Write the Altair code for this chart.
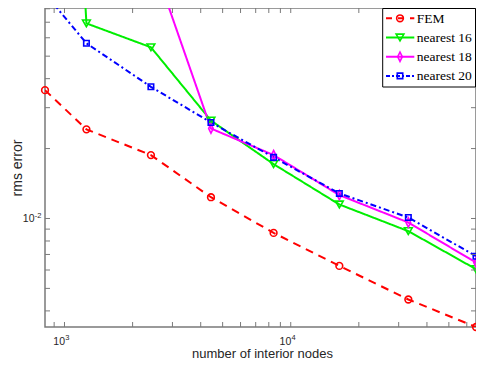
import altair as alt
import pandas as pd

# ---- data ----
nodes = [820, 1250, 2410, 4440, 8400, 16400, 33100, 65900]
fem = [0.0357, 0.0242, 0.01875, 0.01235, 0.00867, 0.00625, 0.00448, 0.00341]
nearest16 = [100.0, 0.0692, 0.0546, 0.0264, 0.01714, 0.01149, 0.00882, 0.00605]
nearest18 = [None, None, 0.135, 0.0244, 0.01875, 0.01261, 0.00961, 0.00646]
nearest20 = [0.093, 0.0568, 0.0369, 0.0259, 0.01833, 0.01282, 0.0101, 0.00688]

series_names = ["FEM", "nearest 16", "nearest 18", "nearest 20"]
series_values = [fem, nearest16, nearest18, nearest20]
colors = ["#ff0000", "#00ee00", "#ff00ff", "#0000ff"]
dashes = [[8, 6], [1, 0], [1, 0], [6, 3, 2, 3]]
shapes = ["circle", "triangle-down", "M0,-1.25L0.62,0L0,1.25L-0.62,0Z", "square"]
sizes = [45, 60, 55, 30]
legend_dashes = [[6, 6], [1, 0], [1, 0], [4, 2, 2, 2]]

x_minor = [900, 1000, 2000, 3000, 4000, 5000, 6000, 7000, 8000, 9000,
           10000, 20000, 30000, 40000, 50000, 60000]
y_minor = [0.004, 0.005, 0.006, 0.007, 0.008, 0.009, 0.01,
           0.02, 0.03, 0.04, 0.05, 0.06, 0.07, 0.08]
x_labels = [1000, 10000]
x_exps = ["3", "4"]
y_labels = [0.01]
y_exps = ["-2"]

X_DOMAIN = [820, 65900]
Y_DOMAIN = [0.00341, 0.0806]
W, H = 431, 319
AX = "#7a7a7a"
TXT = "#262626"
FONT = "Liberation Sans"

rows = []
for name, vals in zip(series_names, series_values):
    for n, v in zip(nodes, vals):
        if v is not None:
            rows.append({"series": name, "nodes": n, "err": v})
df = pd.DataFrame(rows)

xs = alt.Scale(type="log", domain=X_DOMAIN, nice=False)
ys = alt.Scale(type="log", domain=Y_DOMAIN, nice=False)

x_axis = alt.Axis(title="number of interior nodes", labels=False, ticks=False, domain=False,
                  grid=False, titleFont=FONT, titleFontSize=13, titleFontWeight="normal",
                  titleColor=TXT, titleX=217, titleY=30, titleAlign="center",
                  titleBaseline="alphabetic")
y_axis = alt.Axis(title="rms error", labels=False, ticks=False, domain=False, grid=False,
                  titleFont=FONT, titleFontSize=14, titleFontWeight="normal", titleColor=TXT,
                  titleX=-24, titleY=159.5, titleAlign="center", titleBaseline="alphabetic",
                  titleAngle=270)

lines = alt.Chart(df).mark_line(clip=True, strokeWidth=2).encode(
    x=alt.X("nodes:Q", scale=xs, axis=x_axis),
    y=alt.Y("err:Q", scale=ys, axis=y_axis),
    color=alt.Color("series:N", scale=alt.Scale(domain=series_names, range=colors), legend=None),
    strokeDash=alt.StrokeDash("series:N", scale=alt.Scale(domain=series_names, range=dashes), legend=None),
    order="nodes:Q",
)

layers = [lines]
for name, col, shp, sz in zip(series_names, colors, shapes, sizes):
    pts = alt.Chart(df).transform_filter(
        (alt.datum.series == name) & (alt.datum.err <= Y_DOMAIN[1])
    ).mark_point(filled=False, shape=shp, size=sz, strokeWidth=1.6, color=col, opacity=1).encode(
        x=alt.X("nodes:Q", scale=xs),
        y=alt.Y("err:Q", scale=ys),
    )
    layers.append(pts)

# ticks (inside, all four sides)
xt = pd.DataFrame({"nodes": x_minor})
yt = pd.DataFrame({"err": y_minor})
tick_len = 5
layers.append(alt.Chart(xt).mark_rule(color=AX, strokeWidth=1).encode(
    x=alt.X("nodes:Q", scale=xs), y=alt.value(H - tick_len), y2=alt.value(H)))
layers.append(alt.Chart(xt).mark_rule(color=AX, strokeWidth=1).encode(
    x=alt.X("nodes:Q", scale=xs), y=alt.value(0), y2=alt.value(tick_len)))
layers.append(alt.Chart(yt).mark_rule(color=AX, strokeWidth=1).encode(
    y=alt.Y("err:Q", scale=ys), x=alt.value(0), x2=alt.value(tick_len)))
layers.append(alt.Chart(yt).mark_rule(color=AX, strokeWidth=1).encode(
    y=alt.Y("err:Q", scale=ys), x=alt.value(W - tick_len), x2=alt.value(W)))

# tick labels 10^n
xl = pd.DataFrame({"nodes": x_labels, "exp": x_exps})
layers.append(alt.Chart(xl).mark_text(align="right", baseline="middle", dx=0.5, font=FONT,
                                      fontSize=10.5, color=TXT).encode(
    x=alt.X("nodes:Q", scale=xs), y=alt.value(H + 15), text=alt.value("10")))
layers.append(alt.Chart(xl).mark_text(align="left", baseline="middle", dx=0.8, font=FONT,
                                      fontSize=7.5, color=TXT).encode(
    x=alt.X("nodes:Q", scale=xs), y=alt.value(H + 10.7), text="exp:N"))
yl = pd.DataFrame({"err": y_labels, "exp": y_exps})
layers.append(alt.Chart(yl).mark_text(align="right", baseline="middle", dy=0.6, font=FONT,
                                      fontSize=10.5, color=TXT).encode(
    y=alt.Y("err:Q", scale=ys), x=alt.value(-10.5), text=alt.value("10")))
layers.append(alt.Chart(yl).mark_text(align="left", baseline="middle", dy=-2.8, font=FONT,
                                      fontSize=7.5, color=TXT).encode(
    y=alt.Y("err:Q", scale=ys), x=alt.value(-10.3), text="exp:N"))

# legend box
one = pd.DataFrame({"k": [0]})
layers.append(alt.Chart(one).mark_rect(fill="white", stroke="black", strokeWidth=1).encode(
    x=alt.value(337.7), x2=alt.value(W - 0.5), y=alt.value(0.5), y2=alt.value(79)))
for i, (name, col, dsh, shp, sz) in enumerate(zip(series_names, colors, legend_dashes, shapes, sizes)):
    ly = 10.3 + 19.2 * i
    layers.append(alt.Chart(one).mark_rule(color=col, strokeWidth=2, strokeDash=dsh).encode(
        x=alt.value(341), x2=alt.value(369.3), y=alt.value(ly)))
    layers.append(alt.Chart(one).mark_point(filled=False, shape=shp, size=sz, strokeWidth=1.6,
                                           color=col, opacity=1).encode(
        x=alt.value(355), y=alt.value(ly)))
    layers.append(alt.Chart(pd.DataFrame({"name": [name]})).mark_text(
        align="left", baseline="middle", font="Liberation Serif", fontSize=13.5, color="black").encode(
        x=alt.value(371.7), y=alt.value(ly + 0.5), text="name:N"))

chart = alt.layer(*layers).properties(
    width=W, height=H,
    autosize=alt.AutoSizeParams(type="none"),
    padding={"left": 37, "top": 0, "right": 0, "bottom": 33},
).configure_view(stroke=AX, strokeWidth=1.5)

chart.save("out.html", embed_options={"renderer": "svg", "actions": False})
